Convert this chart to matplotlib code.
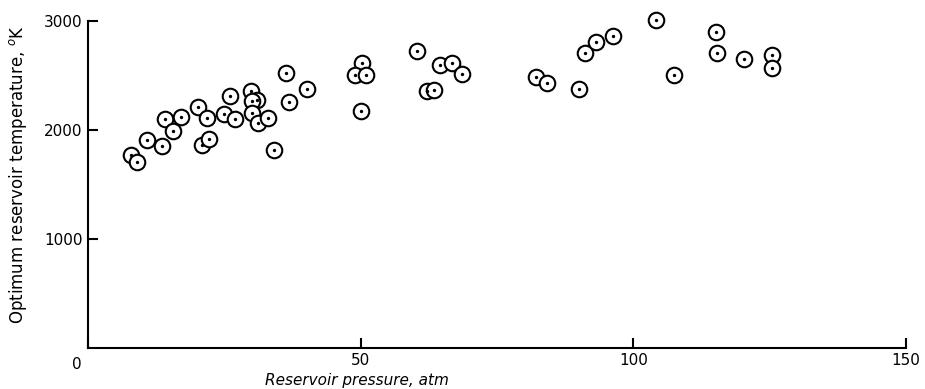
#!/usr/bin/python3
import numpy as np
import matplotlib.pyplot as plt

# data: reservoir pressure (atm) and optimum temperature (K)
pressure = [7.9, 9.0, 10.9, 13.5, 14.2, 15.6, 17.0, 20.1, 21.8, 20.9,
            22.2, 24.9, 26.0, 27.0, 29.9, 31.0, 30.1, 30.0, 31.2, 33.1,
            34.1, 36.9, 36.3, 40.2, 50.3, 49.0, 50.9, 50.0, 60.3, 64.6,
            66.7, 68.6, 62.1, 63.4, 82.2, 84.2, 90.1, 91.2, 93.2, 96.2,
            104.1, 107.4, 115.2, 115.3, 120.3, 125.4, 125.4]
temperature = [1768, 1707, 1903, 1853, 2098, 1991, 2114, 2205, 2104, 1860,
               1912, 2144, 2309, 2098, 2355, 2272, 2260, 2156, 2059, 2110,
               1814, 2251, 2523, 2373, 2609, 2505, 2505, 2169, 2719, 2594,
               2609, 2514, 2358, 2361, 2483, 2431, 2376, 2706, 2804, 2860,
               3004, 2503, 2897, 2708, 2646, 2686, 2568]

xticks = [0, 50, 100, 150]
xtick_labels = ['', '50', '100', '150']
yticks = [1000, 2000, 3000]

fig = plt.figure(figsize=(9.25, 3.89), dpi=100)
ax = fig.add_axes([0.0951, 0.106, 0.8844, 0.8408])

# open circles with a dot in the centre
ax.scatter(pressure, temperature, s=125, facecolors='white', edgecolors='black',
           linewidths=1.5, zorder=3, clip_on=False)
ax.scatter(pressure, temperature, s=2, color='black', zorder=4, clip_on=False)

ax.set_xlim(0, 150)
ax.set_ylim(0, 3000)

ax.spines['top'].set_visible(False)
ax.spines['right'].set_visible(False)
for side in ['left', 'bottom']:
	ax.spines[side].set_linewidth(1.5)

ax.set_xticks(xticks)
ax.set_xticklabels(xtick_labels)
ax.set_yticks(yticks)
ax.tick_params(direction='in', length=7, width=1.5, labelsize=11, pad=4)

# single origin label below-left of the corner
ax.text(-2.0, -150, '0', fontsize=11, ha='center', va='center')

ax.set_xlabel('Reservoir pressure, atm', fontsize=11, style='italic')
ax.xaxis.set_label_coords(0.329, -0.077)
ax.set_ylabel('Optimum reservoir temperature, $^{o}$K', fontsize=12)
ax.yaxis.set_label_coords(-0.072, 0.53)

fig.savefig('out.png', dpi=100)
